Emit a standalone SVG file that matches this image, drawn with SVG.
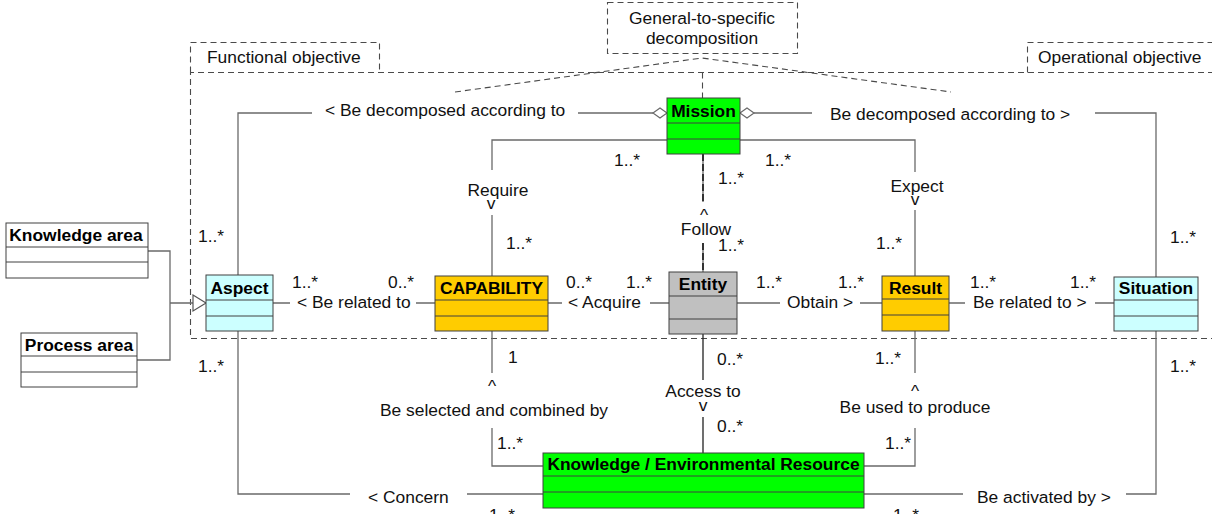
<svg xmlns="http://www.w3.org/2000/svg" width="1212" height="514" viewBox="0 0 1212 514">
<style>
text{font-family:"Liberation Sans",Arial,sans-serif;font-size:17.4px;fill:#111}
.t{font-weight:bold;text-anchor:middle;fill:#000}
.m{text-anchor:middle}
.box{stroke:#404040;stroke-width:1}
.div{stroke:#404040;stroke-width:1}
.dash{fill:none;stroke:#4a4a4a;stroke-width:1.1;stroke-dasharray:6,4}
.ln{fill:none;stroke:#6a6a6a;stroke-width:1.3}
.dk{fill:none;stroke:#222;stroke-width:1.3}
.fd{fill:none;stroke:#111;stroke-width:1.5;stroke-dasharray:7,3}
</style>
<rect width="1212" height="514" fill="#fff"/>
<g id="frames">
<rect x="607.5" y="2.5" width="190" height="51" class="dash"/>
<text class="m" x="702" y="24">General-to-specific</text>
<text class="m" x="702" y="44">decomposition</text>
<path d="M190.5,72.5 L190.5,42.5 L379.5,42.5 L379.5,72.5" class="dash"/>
<text x="207" y="63">Functional objective</text>
<path d="M1027.5,72.5 L1027.5,42.5 L1214,42.5" class="dash"/>
<text x="1038" y="63">Operational objective</text>
<path d="M1214,72.5 L190.5,72.5 L190.5,338.5 L1214,338.5" class="dash"/>
<path d="M455,92 L702,58 L951,92" class="dash"/>
<path d="M702.5,72.5 L702.5,98" class="dash"/>
</g>
<g id="connectors">
<path d="M653,113 L578,113 M312,113 L238,113 L238,275" class="ln"/>
<path d="M754,113 L812,113 M1095,113 L1156,113 L1156,277" class="ln"/>
<polygon points="653,113 660,108 667,113 660,118" fill="#fff" stroke="#6a6a6a" stroke-width="1.2"/>
<polygon points="740,113 747,108 754,113 747,118" fill="#fff" stroke="#6a6a6a" stroke-width="1.2"/>
<path d="M667,140 L492,140 L492,170 M492,215 L492,276" class="ln"/>
<path d="M740,140 L915,140 L915,172 M915,210 L915,276" class="ln"/>
<path d="M703,154 L703,202 M703,243 L703,272" class="ln"/>
<path d="M703,154 L703,202 M703,243 L703,272" class="fd"/>
<path d="M273,303 L290,303 M416,303 L435,303" class="ln"/>
<path d="M548,303 L562,303 M650,303 L669,303" class="ln"/>
<path d="M737,303 L780,303 M860,303 L882,303" class="ln"/>
<path d="M949,303 L965,303 M1095,303 L1114,303" class="ln"/>
<path d="M238,331 L238,494 L350,494 M467,494 L543,494" class="ln"/>
<path d="M492,331 L492,373 M492,428 L492,466 L543,466" class="ln"/>
<path d="M703,334 L703,380 M703,417 L703,453" class="dk"/>
<path d="M915,331 L915,373 M915,428 L915,466 L864,466" class="ln"/>
<path d="M1156,331 L1156,494 L1126,494 M963,494 L864,494" class="ln"/>
<path d="M148,251 L170,251 L170,360 L137,360 M170,303 L193,303" class="ln"/>
<polygon points="193,295 206,303 193,311" fill="#fff" stroke="#555" stroke-width="1.2"/>
<text x="325" y="116">&lt; Be decomposed according to</text>
<text x="830" y="120">Be decomposed according to &gt;</text>
<text x="614" y="166">1..*</text>
<text x="765" y="166">1..*</text>
<text class="m" x="498" y="196">Require</text>
<text class="m" x="491" y="209">v</text>
<text x="506" y="249">1..*</text>
<text x="718" y="184">1..*</text>
<text class="m" x="704" y="221">^</text>
<text class="m" x="706" y="235">Follow</text>
<text x="718" y="251">1..*</text>
<text class="m" x="917" y="192">Expect</text>
<text class="m" x="915" y="205">v</text>
<text x="876" y="249">1..*</text>
<text x="198" y="242">1..*</text>
<text x="1170" y="243">1..*</text>
<text x="292" y="288">1..*</text>
<text x="297" y="308">&lt; Be related to</text>
<text x="388" y="288">0..*</text>
<text x="566" y="288">0..*</text>
<text x="568" y="308">&lt; Acquire</text>
<text x="626" y="288">1..*</text>
<text x="756" y="288">1..*</text>
<text x="787" y="308">Obtain &gt;</text>
<text x="838" y="288">1..*</text>
<text x="970" y="288">1..*</text>
<text x="973" y="308">Be related to &gt;</text>
<text x="1070" y="288">1..*</text>
<text x="198" y="372">1..*</text>
<text x="1170" y="372">1..*</text>
<text x="508" y="363">1</text>
<text class="m" x="492" y="392">^</text>
<text class="m" x="494" y="416">Be selected and combined by</text>
<text x="497" y="449">1..*</text>
<text x="717" y="365">0..*</text>
<text class="m" x="703" y="397">Access to</text>
<text class="m" x="703" y="411">v</text>
<text x="717" y="432">0..*</text>
<text x="875" y="364">1..*</text>
<text class="m" x="915" y="397">^</text>
<text class="m" x="915" y="413">Be used to produce</text>
<text x="885" y="449">1..*</text>
<text x="368" y="503">&lt; Concern</text>
<text x="977" y="503">Be activated by &gt;</text>
<text x="489" y="521">1..*</text>
<text x="893" y="521">1..*</text>
</g>
<g id="mission">
<rect x="667" y="98" width="73" height="56" fill="#00ff00" class="box"/>
<path d="M667,123 H740 M667,139 H740" class="div"/>
<text class="t" x="703.5" y="117">Mission</text>
</g>
<g id="aspect">
<rect x="206" y="275" width="67" height="56" fill="#ccffff" class="box"/>
<path d="M206,300 H273 M206,316 H273" class="div"/>
<text class="t" x="239.5" y="294">Aspect</text>
</g>
<g id="capability">
<rect x="435" y="276" width="113" height="55" fill="#ffcc00" class="box"/>
<path d="M435,300 H548 M435,316 H548" class="div"/>
<text class="t" x="491.5" y="294">CAPABILITY</text>
</g>
<g id="entity">
<rect x="669" y="272" width="68" height="62" fill="#c0c0c0" class="box"/>
<path d="M669,296 H737 M669,319 H737" class="div"/>
<text class="t" x="703" y="290">Entity</text>
</g>
<g id="result">
<rect x="882" y="276" width="67" height="55" fill="#ffcc00" class="box"/>
<path d="M882,299 H949 M882,315 H949" class="div"/>
<text class="t" x="915.5" y="294">Result</text>
</g>
<g id="situation">
<rect x="1114" y="277" width="84" height="54" fill="#ccffff" class="box"/>
<path d="M1114,300 H1198 M1114,316 H1198" class="div"/>
<text class="t" x="1156" y="294">Situation</text>
</g>
<g id="knowledge-area">
<rect x="6" y="223" width="142" height="55" fill="#fff" class="box"/>
<path d="M6,247 H148 M6,262 H148" class="div"/>
<text class="t" x="76" y="241">Knowledge area</text>
</g>
<g id="process-area">
<rect x="21" y="333" width="116" height="54" fill="#fff" class="box"/>
<path d="M21,356 H137 M21,372 H137" class="div"/>
<text class="t" x="79" y="351">Process area</text>
</g>
<g id="ker">
<rect x="543" y="453" width="321" height="55" fill="#00ff00" class="box"/>
<path d="M543,476 H864 M543,492 H864" class="div"/>
<text class="t" x="703.5" y="470">Knowledge / Environmental Resource</text>
</g>
</svg>
